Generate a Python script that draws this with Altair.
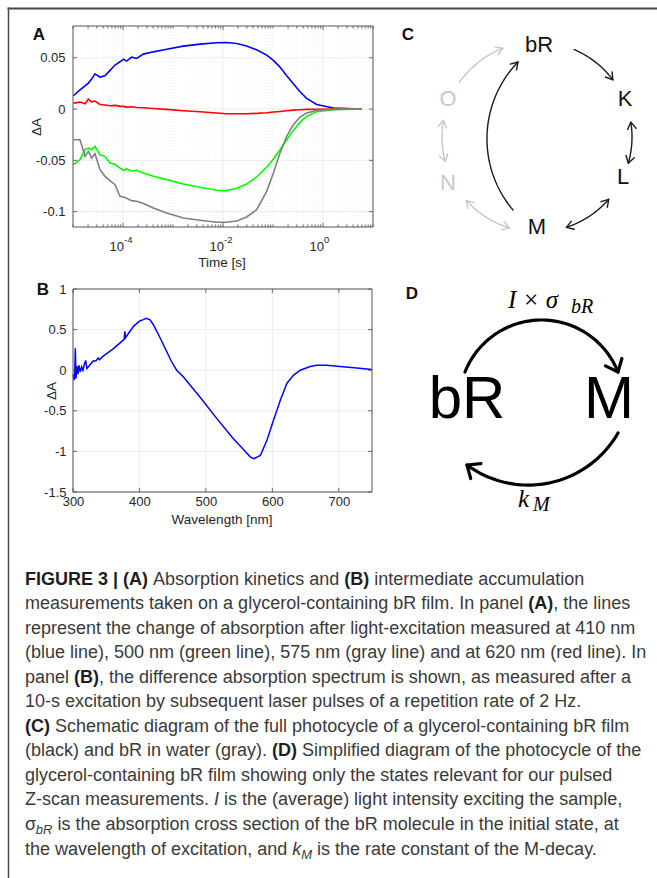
import math
import altair as alt
import pandas as pd

W, H = 657, 878
SANS = "Liberation Sans"
SERIF = "Liberation Serif"
INK = "#262626"

# ------------------------------------------------------------------ data
# Panel A: absorption kinetics (time in s, change of absorption)
time_s = [1.02e-5, 1.38e-5, 1.74e-5, 2.03e-5, 2.36e-5, 2.75e-5, 3.47e-5, 4.37e-5,
          5.50e-5, 6.92e-5, 8.71e-5, 1.02e-4, 1.18e-4, 1.49e-4, 1.88e-4, 2.55e-4,
          4.04e-4, 7.47e-4, 1.61e-3, 3.47e-3, 7.47e-3, 1.18e-2, 1.88e-2, 2.97e-2,
          4.71e-2, 7.47e-2, 0.102, 0.138, 0.188, 0.255, 0.347, 0.471, 0.747, 1.61, 5.93]
dA_410nm = [0.0130, 0.0188, 0.0227, 0.0253, 0.0292, 0.0344, 0.0312, 0.0325, 0.0377, 0.0429,
            0.0461, 0.0487, 0.0468, 0.0506, 0.0494, 0.0536, 0.0558, 0.0584, 0.0614, 0.0633,
            0.0646, 0.0649, 0.0640, 0.0614, 0.0578, 0.0526, 0.0474, 0.0409, 0.0325, 0.0247,
            0.0169, 0.0104, 0.0045, 0.0010, 0.0]
dA_620nm = [0.0058, 0.0068, 0.0052, 0.0097, 0.0071, 0.0078, 0.0045, 0.0039, 0.0032, 0.0036,
            0.0026, 0.0026, 0.0019, 0.0023, 0.0016, 0.0013, 0.0006, -0.0003, -0.0016, -0.0026,
            -0.0039, -0.0045, -0.0045, -0.0045, -0.0042, -0.0036, -0.0029, -0.0023, -0.0016,
            -0.0010, -0.0006, -0.0003, -0.0002, 0.0, 0.0]
dA_500nm = [-0.0542, -0.0494, -0.0396, -0.0380, -0.0396, -0.0364, -0.0448, -0.0461, -0.0526,
            -0.0539, -0.0575, -0.0597, -0.0584, -0.0604, -0.0597, -0.0623, -0.0656, -0.0688,
            -0.0731, -0.0763, -0.0792, -0.0795, -0.0773, -0.0731, -0.0662, -0.0568, -0.0487,
            -0.0396, -0.0299, -0.0208, -0.0130, -0.0071, -0.0026, -0.0006, 0.0]
dA_575nm = [-0.0299, -0.0299, -0.0461, -0.0412, -0.0477, -0.0435, -0.0591, -0.0656, -0.0698,
            -0.0737, -0.0851, -0.0857, -0.0870, -0.0893, -0.0899, -0.0922, -0.0964, -0.1013,
            -0.1062, -0.1084, -0.1104, -0.1104, -0.1091, -0.1052, -0.0981, -0.0802, -0.0623,
            -0.0429, -0.0266, -0.0153, -0.0078, -0.0039, -0.0013, -0.0003, 0.0]
kin_names = ["410 nm", "620 nm", "500 nm", "575 nm"]
kin_colors = ["#0000ff", "#ff0000", "#00ff00", "#808080"]
a_ytick_values = [-0.1, -0.05, 0, 0.05]
a_xlabel_values = [1e-4, 1e-2, 1.0]
a_xlabel_exps = ["-4", "-2", "0"]

# Panel B: difference absorption spectrum
wavelength_nm = [300.5, 301.5, 302.5, 303.5, 304.5, 306, 307.5, 309, 311, 313, 315, 317, 319, 321,
                 325, 330, 335, 338, 340, 345, 350, 360, 370, 377, 378, 379, 385, 391, 401, 405,
                 410, 416, 421, 431, 441, 448, 456, 466, 491, 516, 541, 557, 567, 572, 582, 592,
                 602, 612, 622, 632, 642, 657, 667, 682, 702, 723, 750]
dA_spectrum = [-0.05, -0.12, -0.10, 0.27, -0.10, 0.05, -0.05, 0.06, -0.02, 0.04, 0.00, 0.07, 0.12,
               0.02, 0.06, 0.11, 0.12, 0.15, 0.13, 0.17, 0.20, 0.26, 0.33, 0.38, 0.48, 0.40, 0.47,
               0.54, 0.61, 0.62, 0.64, 0.62, 0.56, 0.40, 0.23, 0.11, 0.00, -0.08, -0.33, -0.59,
               -0.84, -0.98, -1.07, -1.09, -1.05, -0.86, -0.61, -0.37, -0.16, -0.06, 0.0, 0.045,
               0.06, 0.06, 0.045, 0.03, 0.01]
b_xtick_values = [300, 400, 500, 600, 700]
b_ytick_values = [-1.5, -1, -0.5, 0, 0.5, 1]

# Panel C / D state labels
c_states = ["bR", "K", "L", "M", "O", "N"]
c_state_gray = [False, False, False, False, True, True]
d_states = ["bR", "M"]

# Caption (style: b bold, n normal, i italic, s italic subscript)
caption_lines = [
    [("b", "FIGURE 3 | (A)"), ("n", " Absorption kinetics and "), ("b", "(B)"), ("n", " intermediate accumulation")],
    [("n", "measurements taken on a glycerol-containing bR film. In panel "), ("b", "(A)"), ("n", ", the lines")],
    [("n", "represent the change of absorption after light-excitation measured at 410 nm")],
    [("n", "(blue line), 500 nm (green line), 575 nm (gray line) and at 620 nm (red line). In")],
    [("n", "panel "), ("b", "(B)"), ("n", ", the difference absorption spectrum is shown, as measured after a")],
    [("n", "10-s excitation by subsequent laser pulses of a repetition rate of 2 Hz.")],
    [("b", "(C)"), ("n", " Schematic diagram of the full photocycle of a glycerol-containing bR film")],
    [("n", "(black) and bR in water (gray). "), ("b", "(D)"), ("n", " Simplified diagram of the photocycle of the")],
    [("n", "glycerol-containing bR film showing only the states relevant for our pulsed")],
    [("n", "Z-scan measurements. "), ("i", "I"), ("n", " is the (average) light intensity exciting the sample,")],
    [("n", "σ"), ("s", "bR"), ("n", " is the absorption cross section of the bR molecule in the initial state, at")],
    [("n", "the wavelength of excitation, and "), ("i", "k"), ("s", "M"), ("n", " is the rate constant of the M-decay.")],
]

# ------------------------------------------------------------------ layout
A_L, A_R, A_T, A_B = 73, 373, 26, 227
B_L, B_R, B_T, B_B = 73, 372, 289, 492


def px_x(field="x"):
    return alt.X(f"{field}:Q", scale=alt.Scale(domain=[0, W], range=[0, W], nice=False, zero=False), axis=None)


def px_y(field="y"):
    return alt.Y(f"{field}:Q", scale=alt.Scale(domain=[0, H], range=[0, H], nice=False, zero=False), axis=None)


def sxA():
    return alt.Scale(type="log", domain=[1e-5, 10], range=[A_L, A_R], nice=False)


def syA():
    return alt.Scale(domain=[-0.115, 0.081], range=[A_B, A_T], nice=False, zero=False)


def sxB():
    return alt.Scale(domain=[300, 750], range=[B_L, B_R], nice=False, zero=False)


def syB():
    return alt.Scale(domain=[-1.5, 1], range=[B_B, B_T], nice=False, zero=False)


one = pd.DataFrame({"k": [0]})
layers = []

LABEL_EXPR = "replace(format(datum.value, '~g'), '\u2212', '-')"

# ------------------------------------------------------------------ panel A
a_major = list(a_xlabel_values)
a_minor = [m * 10.0 ** k for k in range(-5, 1) for m in range(1, 10)]
a_minor = [t for t in a_minor + [10.0] if all(abs(t - v) > 1e-12 * max(t, 1e-12) for v in a_major)]

layers.append(alt.Chart(pd.DataFrame({"t": a_minor})).mark_rule(color="#ececec", strokeWidth=0.8, strokeDash=[1, 2]).encode(
    x=alt.X("t:Q", scale=sxA(), axis=None), y=alt.value(A_T), y2=alt.value(A_B)))
layers.append(alt.Chart(pd.DataFrame({"t": a_major})).mark_rule(color="#e6e6e6", strokeWidth=0.8).encode(
    x=alt.X("t:Q", scale=sxA(), axis=None), y=alt.value(A_T), y2=alt.value(A_B)))
layers.append(alt.Chart(pd.DataFrame({"v": a_ytick_values})).mark_rule(color="#e6e6e6", strokeWidth=0.8).encode(
    y=alt.Y("v:Q", scale=syA(), axis=None), x=alt.value(A_L), x2=alt.value(A_R)))

kin_rows = []
for name, vals in zip(kin_names, [dA_410nm, dA_620nm, dA_500nm, dA_575nm]):
    for i, (t, v) in enumerate(zip(time_s, vals)):
        kin_rows.append({"t": t, "v": v, "series": name, "i": i})
kin_df = pd.DataFrame(kin_rows)

layers.append(alt.Chart(kin_df).mark_line(strokeWidth=1.6).encode(
    x=alt.X("t:Q", scale=sxA(), axis=None),
    y=alt.Y("v:Q", scale=syA(), axis=alt.Axis(
        orient="left", offset=-A_L, values=a_ytick_values, grid=False, domain=False, ticks=False,
        tickSize=0, labelPadding=8, labelFont=SANS, labelFontSize=13, labelColor=INK, title=None,
        labelExpr=LABEL_EXPR, labelOverlap=False)),
    color=alt.Color("series:N", scale=alt.Scale(domain=kin_names, range=kin_colors), legend=None),
    detail="series:N",
    order="i:Q"))

# inward ticks panel A
a_tick_major = pd.DataFrame({"t": a_major})
a_tick_minor = pd.DataFrame({"t": a_minor})
for df, ln in [(a_tick_major, 4), (a_tick_minor, 2.5)]:
    layers.append(alt.Chart(df).mark_rule(color="#444444", strokeWidth=0.8).encode(
        x=alt.X("t:Q", scale=sxA(), axis=None), y=alt.value(A_B), y2=alt.value(A_B - ln)))
    layers.append(alt.Chart(df).mark_rule(color="#444444", strokeWidth=0.8).encode(
        x=alt.X("t:Q", scale=sxA(), axis=None), y=alt.value(A_T), y2=alt.value(A_T + ln)))
a_ytick_df = pd.DataFrame({"v": a_ytick_values})
layers.append(alt.Chart(a_ytick_df).mark_rule(color="#444444", strokeWidth=0.8).encode(
    y=alt.Y("v:Q", scale=syA(), axis=None), x=alt.value(A_L), x2=alt.value(A_L + 4)))
layers.append(alt.Chart(a_ytick_df).mark_rule(color="#444444", strokeWidth=0.8).encode(
    y=alt.Y("v:Q", scale=syA(), axis=None), x=alt.value(A_R), x2=alt.value(A_R - 4)))

layers.append(alt.Chart(one).mark_rect(fill=None, stroke="#555555", strokeWidth=1).encode(
    x=alt.value(A_L), x2=alt.value(A_R), y=alt.value(A_T), y2=alt.value(A_B)))

a_xlab_df = pd.DataFrame({"t": a_xlabel_values, "e": a_xlabel_exps})
layers.append(alt.Chart(a_xlab_df).mark_text(align="right", baseline="alphabetic", fontSize=13, font=SANS,
                                             color=INK, dx=1).encode(
    x=alt.X("t:Q", scale=sxA(), axis=None), y=alt.value(251), text=alt.value("10")))
layers.append(alt.Chart(a_xlab_df).mark_text(align="left", baseline="alphabetic", fontSize=9.5, font=SANS,
                                             color=INK, dx=1).encode(
    x=alt.X("t:Q", scale=sxA(), axis=None), y=alt.value(243), text="e:N"))

# ------------------------------------------------------------------ panel B
layers.append(alt.Chart(pd.DataFrame({"w": b_xtick_values})).mark_rule(color="#e8e8e8", strokeWidth=0.8).encode(
    x=alt.X("w:Q", scale=sxB(), axis=None), y=alt.value(B_T), y2=alt.value(B_B)))
layers.append(alt.Chart(pd.DataFrame({"v": b_ytick_values})).mark_rule(color="#e8e8e8", strokeWidth=0.8).encode(
    y=alt.Y("v:Q", scale=syB(), axis=None), x=alt.value(B_L), x2=alt.value(B_R)))

spec_df = pd.DataFrame({"w": wavelength_nm, "v": dA_spectrum})
layers.append(alt.Chart(spec_df).mark_line(color="#0000ff", strokeWidth=1.5).encode(
    x=alt.X("w:Q", scale=sxB(), axis=alt.Axis(
        orient="bottom", offset=B_B - H, values=b_xtick_values, grid=False, domain=False, ticks=False,
        tickSize=0, labelPadding=3, labelFont=SANS, labelFontSize=13, labelColor=INK, title=None,
        labelExpr=LABEL_EXPR, labelOverlap=False, labelFlush=False)),
    y=alt.Y("v:Q", scale=syB(), axis=alt.Axis(
        orient="left", offset=-B_L, values=b_ytick_values, grid=False, domain=False, ticks=False,
        tickSize=0, labelPadding=7, labelFont=SANS, labelFontSize=13, labelColor=INK, title=None,
        labelExpr=LABEL_EXPR, labelOverlap=False))))

b_xt = pd.DataFrame({"w": b_xtick_values})
b_yt = pd.DataFrame({"v": b_ytick_values})
layers.append(alt.Chart(b_xt).mark_rule(color="#444444", strokeWidth=0.8).encode(
    x=alt.X("w:Q", scale=sxB(), axis=None), y=alt.value(B_B), y2=alt.value(B_B - 4)))
layers.append(alt.Chart(b_xt).mark_rule(color="#444444", strokeWidth=0.8).encode(
    x=alt.X("w:Q", scale=sxB(), axis=None), y=alt.value(B_T), y2=alt.value(B_T + 4)))
layers.append(alt.Chart(b_yt).mark_rule(color="#444444", strokeWidth=0.8).encode(
    y=alt.Y("v:Q", scale=syB(), axis=None), x=alt.value(B_L), x2=alt.value(B_L + 4)))
layers.append(alt.Chart(b_yt).mark_rule(color="#444444", strokeWidth=0.8).encode(
    y=alt.Y("v:Q", scale=syB(), axis=None), x=alt.value(B_R), x2=alt.value(B_R - 4)))
layers.append(alt.Chart(one).mark_rect(fill=None, stroke="#555555", strokeWidth=1).encode(
    x=alt.value(B_L), x2=alt.value(B_R), y=alt.value(B_T), y2=alt.value(B_B)))

# axis titles and panel letters
titles = pd.DataFrame([
    {"x": 222, "y": 267, "t": "Time [s]"},
    {"x": 222, "y": 524, "t": "Wavelength [nm]"},
])
layers.append(alt.Chart(titles).mark_text(font=SANS, fontSize=13.5, color=INK, baseline="alphabetic").encode(
    x=px_x(), y=px_y(), text="t:N"))
ytitles = pd.DataFrame([{"x": 37, "y": 127, "t": "ΔA"}, {"x": 52, "y": 391, "t": "ΔA"}])
layers.append(alt.Chart(ytitles).mark_text(font=SANS, fontSize=13.5, color=INK, angle=270,
                                           baseline="middle").encode(x=px_x(), y=px_y(), text="t:N"))
letters = pd.DataFrame([
    {"x": 39, "y": 35, "t": "A"}, {"x": 43, "y": 290, "t": "B"},
    {"x": 408, "y": 35, "t": "C"}, {"x": 412, "y": 294, "t": "D"}])
layers.append(alt.Chart(letters).mark_text(font=SANS, fontSize=17, fontWeight="bold", color="#111111",
                                           baseline="middle").encode(x=px_x(), y=px_y(), text="t:N"))


# ------------------------------------------------------------------ diagrams C and D
def circle3(p1, p2, p3):
    ax, ay = p1
    bx, by = p2
    cx, cy = p3
    d = 2 * (ax * (by - cy) + bx * (cy - ay) + cx * (ay - by))
    ux = ((ax * ax + ay * ay) * (by - cy) + (bx * bx + by * by) * (cy - ay) + (cx * cx + cy * cy) * (ay - by)) / d
    uy = ((ax * ax + ay * ay) * (cx - bx) + (bx * bx + by * by) * (ax - cx) + (cx * cx + cy * cy) * (bx - ax)) / d
    return ux, uy


def arc3(p1, pm, p3, n=60):
    cx, cy = circle3(p1, pm, p3)
    r = math.hypot(p1[0] - cx, p1[1] - cy)
    a1 = math.atan2(p1[1] - cy, p1[0] - cx)
    am = math.atan2(pm[1] - cy, pm[0] - cx)
    a3 = math.atan2(p3[1] - cy, p3[0] - cx)
    tau = 2 * math.pi
    d13 = (a3 - a1) % tau
    d1m = (am - a1) % tau
    sweep = d13 if d1m <= d13 else d13 - tau
    return [(cx + r * math.cos(a1 + sweep * k / (n - 1)), cy + r * math.sin(a1 + sweep * k / (n - 1))) for k in range(n)]


def arc_circle(c, r, a0, a1, n=60):
    return [(c[0] + r * math.cos(math.radians(a0 + (a1 - a0) * k / (n - 1))),
             c[1] + r * math.sin(math.radians(a0 + (a1 - a0) * k / (n - 1)))) for k in range(n)]


def chevron(tip, prev, length, ang):
    dx, dy = tip[0] - prev[0], tip[1] - prev[1]
    d = math.hypot(dx, dy)
    ux, uy = dx / d, dy / d
    out = []
    for s in (1, -1):
        a = math.radians(ang) * s
        rx = ux * math.cos(a) - uy * math.sin(a)
        ry = ux * math.sin(a) + uy * math.cos(a)
        out.append((tip[0] - length * rx, tip[1] - length * ry))
    return [out[0], tip, out[1]]


def build_paths(arcs, head_len, head_ang):
    rows = []
    sid = 0
    for pts, heads in arcs:
        polys = [pts]
        if heads in ("end", "both"):
            polys.append(chevron(pts[-1], pts[-3], head_len, head_ang))
        if heads in ("start", "both"):
            polys.append(chevron(pts[0], pts[2], head_len, head_ang))
        for poly in polys:
            for o, (x, y) in enumerate(poly):
                rows.append({"x": x, "y": y, "seg": sid, "o": o})
            sid += 1
    return pd.DataFrame(rows)


C_C, C_R = (537, 137), 95
c_black = [
    (arc_circle(C_C, C_R, -67, -37), "end"),
    (arc_circle(C_C, C_R, -9, 16), "both"),
    (arc_circle(C_C, C_R, 41, 72), "both"),
    (arc3((513, 210), (487, 136), (518, 62)), "end"),
]
c_gray = [
    (arc_circle(C_C, C_R, 107, 138), "both"),
    (arc_circle(C_C, C_R, 165, 190), "both"),
    (arc_circle(C_C, C_R, 215, 249), "end"),
]
for arcs, col in [(c_black, "#1a1a1a"), (c_gray, "#c8c8c8")]:
    layers.append(alt.Chart(build_paths(arcs, 8, 32)).mark_line(
        color=col, strokeWidth=1.4, strokeCap="round", strokeJoin="round").encode(
        x=px_x(), y=px_y(), detail="seg:N", order="o:Q"))

c_pos = [(539, 45), (625, 99), (623, 177), (537, 227), (448, 99), (448, 183)]
c_df = pd.DataFrame([{"x": p[0], "y": p[1], "t": s, "g": g} for s, p, g in zip(c_states, c_pos, c_state_gray)])
layers.append(alt.Chart(c_df[~c_df.g]).mark_text(font=SANS, fontSize=22, color="#111111", baseline="middle").encode(
    x=px_x(), y=px_y(), text="t:N"))
layers.append(alt.Chart(c_df[c_df.g]).mark_text(font=SANS, fontSize=22, color="#c8c8c8", baseline="middle").encode(
    x=px_x(), y=px_y(), text="t:N"))

d_arcs = [
    (arc3((465, 372), (542, 320), (618, 372)), "end"),
    (arc3((618, 433), (543, 484), (467, 465)), "end"),
]
layers.append(alt.Chart(build_paths(d_arcs, 14, 40)).mark_line(
    color="#000000", strokeWidth=3.2, strokeCap="round", strokeJoin="round").encode(
    x=px_x(), y=px_y(), detail="seg:N", order="o:Q"))

d_pos = [(467, 400), (609, 400)]
d_df = pd.DataFrame([{"x": p[0], "y": p[1], "t": s} for s, p in zip(d_states, d_pos)])
layers.append(alt.Chart(d_df).mark_text(font=SANS, fontSize=60, color="#000000", baseline="middle").encode(
    x=px_x(), y=px_y(), text="t:N"))

d_math_main = pd.DataFrame([{"x": 508, "y": 308, "t": "I × σ"}, {"x": 518, "y": 507, "t": "k"}])
layers.append(alt.Chart(d_math_main).mark_text(font=SERIF, fontSize=25, fontStyle="italic", color="#000000",
                                               align="left", baseline="alphabetic").encode(
    x=px_x(), y=px_y(), text="t:N"))
d_math_sub = pd.DataFrame([{"x": 571, "y": 313, "t": "bR"}, {"x": 533, "y": 511, "t": "M"}])
layers.append(alt.Chart(d_math_sub).mark_text(font=SERIF, fontSize=20, fontStyle="italic", color="#000000",
                                              align="left", baseline="alphabetic").encode(
    x=px_x(), y=px_y(), text="t:N"))

# ------------------------------------------------------------------ caption
REG = {' ': 278, '!': 278, '"': 355, '%': 889, '&': 667, "'": 191, '(': 333, ')': 333, ',': 278, '-': 333,
       '.': 278, '/': 278, ':': 278, ';': 278, '|': 260, 'σ': 604, '[': 278, ']': 278}
for ch in "0123456789":
    REG[ch] = 556
REG.update(dict(zip("ABCDEFGHIJKLMNOPQRSTUVWXYZ",
                    [667, 667, 722, 722, 667, 611, 778, 722, 278, 500, 667, 556, 833, 722, 778, 667, 778,
                     722, 667, 611, 722, 667, 944, 667, 667, 611])))
REG.update(dict(zip("abcdefghijklmnopqrstuvwxyz",
                    [556, 556, 500, 556, 556, 278, 556, 556, 222, 222, 500, 222, 833, 556, 556, 556, 556,
                     333, 500, 278, 556, 500, 722, 500, 500, 500])))
BOLD = {' ': 278, '(': 333, ')': 333, '|': 280, 'A': 722, 'B': 722, 'C': 722, 'D': 722, 'E': 667,
        'F': 611, 'G': 778, 'I': 278, 'R': 722, 'U': 722}
for ch in "0123456789":
    BOLD[ch] = 556

CAP_X, CAP_Y0, CAP_DY, CAP_SIZE, CAP_SUB = 25, 584.5, 24.55, 18, 13


def text_w(s, table, size):
    return sum(table.get(c, 556) for c in s) * size / 1000.0


cap_rows = []
for i, segs in enumerate(caption_lines):
    x = CAP_X
    base = CAP_Y0 + i * CAP_DY
    for st, s in segs:
        size = CAP_SUB if st == "s" else CAP_SIZE
        table = BOLD if st == "b" else REG
        lead = len(s) - len(s.lstrip(" "))
        cap_rows.append({"x": x + text_w(" " * lead, table, size), "y": base + (4 if st == "s" else 0),
                         "t": s.strip(), "st": st})
        x += text_w(s, table, size)
cap_df = pd.DataFrame(cap_rows)

cap_styles = {
    "n": dict(fontSize=CAP_SIZE, color="#3a3a3a"),
    "b": dict(fontSize=CAP_SIZE, color="#1e1e1e", fontWeight="bold"),
    "i": dict(fontSize=CAP_SIZE, color="#3a3a3a", fontStyle="italic"),
    "s": dict(fontSize=CAP_SUB, color="#3a3a3a", fontStyle="italic"),
}
for st, kw in cap_styles.items():
    sub = cap_df[cap_df.st == st]
    if len(sub):
        layers.append(alt.Chart(sub).mark_text(font=SANS, align="left", baseline="alphabetic", **kw).encode(
            x=px_x(), y=px_y(), text="t:N"))

# ------------------------------------------------------------------ frame
layers.append(alt.Chart(one).mark_rule(color="#4a4a4a", strokeWidth=2).encode(
    x=alt.value(7.5), x2=alt.value(W), y=alt.value(8.5), y2=alt.value(8.5)))
layers.append(alt.Chart(one).mark_rule(color="#4a4a4a", strokeWidth=1.5).encode(
    x=alt.value(8.5), x2=alt.value(8.5), y=alt.value(7.5), y2=alt.value(H)))

chart = alt.layer(*layers).resolve_scale(
    x="independent", y="independent", color="independent"
).properties(
    width=W, height=H, padding=0, autosize=alt.AutoSizeParams(type="none"), background="white"
).configure_view(stroke=None)

chart.save("out.html", embed_options={"renderer": "svg", "actions": False})
